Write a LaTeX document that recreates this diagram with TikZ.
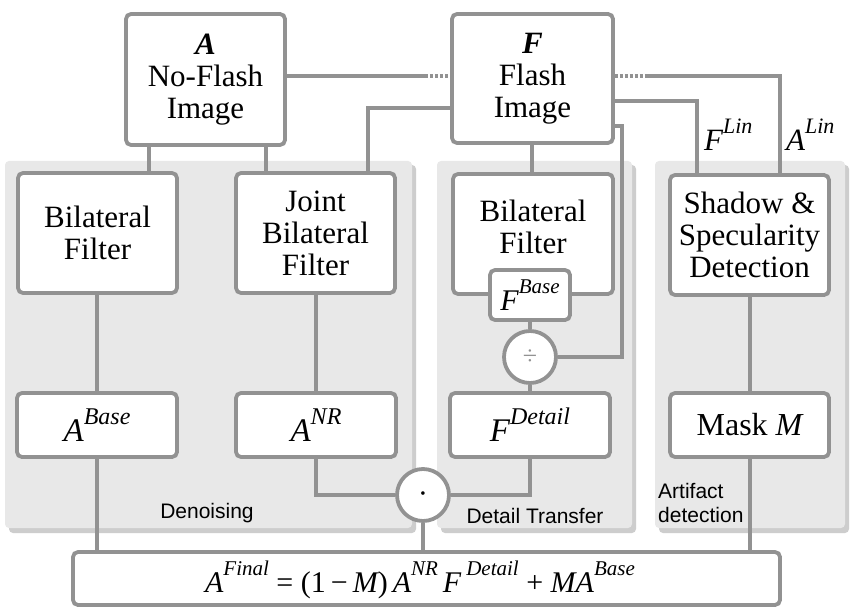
\documentclass[tikz,border=0pt]{standalone}
\usepackage{fontspec}
\setmainfont{Liberation Serif}
\newfontfamily\labfont{Liberation Sans}
\usetikzlibrary{calc}
\definecolor{ln}{RGB}{146,146,146}
\definecolor{pan}{RGB}{232,232,232}
\definecolor{pansh}{RGB}{205,205,205}
\newcommand{\sups}[2][23]{\raisebox{17pt}{\fontsize{#1}{#1}\selectfont\itshape #2}}
\newcommand{\iv}[1]{{\itshape #1}}
\begin{document}
\begin{tikzpicture}[x=1pt,y=-1pt,
  conn/.style={draw=ln,line width=3.8pt},
  dotc/.style={draw=ln,line width=3.8pt,dash pattern=on 3pt off 2pt},
  blk/.style={draw=ln,line width=3.8pt,fill=white,rounded corners=5pt,inner sep=0pt,
    align=center,font=\fontsize{31}{32}\selectfont},
  mth/.style={font=\fontsize{33}{33}\selectfont},
  opc/.style={draw=ln,line width=3.8pt,fill=white,circle,inner sep=0pt,minimum size=52pt,
    font=\fontsize{26}{26}\selectfont},
  panel/.style={fill=pan,rounded corners=4pt},
  panelsh/.style={fill=pansh,rounded corners=4pt},
  lab/.style={font=\labfont\fontsize{21}{24}\selectfont,inner sep=0pt}]
\useasboundingbox (0,0) rectangle (858,612);
\fill[white] (0,0) rectangle (858,612);
% panels
\foreach \a/\b in {5/412,437/632,655/845}{
  \fill[panelsh] (\a+4,165) rectangle (\b+4,533);
  \fill[panel] (\a,161) rectangle (\b,528);
}
% nodes
\node[blk,minimum width=159pt,minimum height=131pt] (A) at (205.5,79.5)
  {\textbf{\itshape A}\\No-Flash\\Image};
\node[blk,minimum width=161pt,minimum height=129pt] (F) at (532.5,78.5)
  {\textbf{\itshape F}\\Flash\\Image};
\node[blk,minimum width=159pt,minimum height=120pt] (BF1) at (97.5,233) {Bilateral\\Filter};
\node[blk,minimum width=159pt,minimum height=120pt] (JBF) at (315.5,233) {Joint\\Bilateral\\Filter};
\node[blk,minimum width=160pt,minimum height=120pt] (BF2) at (533,234) {};
\node[inner sep=0pt,align=center,font=\fontsize{31}{32}\selectfont] (BF2t) at (533,227) {Bilateral\\Filter};
\node[blk,minimum width=159pt,minimum height=120pt] (SD) at (749.5,235) {Shadow \&\\Specularity\\Detection};
\node[blk,mth,minimum width=80pt,minimum height=50pt,font=\fontsize{30}{30}\selectfont] (FB) at (530,295) {\iv{F}\sups[21]{Base}};
\node[opc] (DIV) at (530,357) {\textcolor{ln}{÷}};
\node[blk,mth,minimum width=160pt,minimum height=64pt] (FD) at (530,425) {\iv{F}\sups[24]{Detail}};
\node[blk,mth,minimum width=160pt,minimum height=64pt] (AB) at (97,425) {\iv{A}\sups[24]{Base}};
\node[blk,mth,minimum width=160pt,minimum height=64pt] (ANR) at (316,425) {\iv{A}\sups[24]{NR}};
\node[blk,mth,minimum width=159pt,minimum height=64pt,font=\fontsize{32}{32}\selectfont] (MK) at (749.5,425) {Mask \iv{M}};
\node[opc,font=\fontsize{15}{15}\selectfont] (ODOT) at (423,495) {\textbullet};
\node[blk,minimum width=707pt,minimum height=53pt] (FIN) at (426.5,578.5) {};
\node[inner sep=0pt,font=\fontsize{30}{30}\selectfont] (FINt) at (420,580)
  {\iv{A}\sups[21]{Final} = (1\,−\,\iv{M})\,\iv{A}\sups[21]{NR}\,\iv{F}\,\sups[21]{Detail} + \iv{M}\iv{A}\sups[21]{Base}};
% labels
\node[lab] (l1) at (207,513) {Denoising};
\node[lab] (l2) at (535,516) {Detail Transfer};
\node[lab,align=left,anchor=west,font=\labfont\fontsize{21}{24}\selectfont] (l3) at (658,503) {Artifact\\detection};
\node[inner sep=0pt,anchor=base west,font=\fontsize{31}{31}\selectfont] (fl) at (704,151) {\iv{F}\sups[22]{Lin}};
\node[inner sep=0pt,anchor=base west,font=\fontsize{31}{31}\selectfont] (al) at (786,151) {\iv{A}\sups[22]{Lin}};
% coordinates
\coordinate (d1) at (425,76);
\coordinate (d2) at (645,76);
% connectors
\draw[conn] (A.east |- 0,76) -- (d1);
\draw[dotc] (d1) -- (F.west |- 0,76);
\draw[dotc] (F.east |- 0,76) -- (d2);
\draw[conn] (d2) -- (780,76) -- (SD.north -| 780,0);
\draw[conn] (F.east |- 0,101) -- (697,101) -- (SD.north -| 697,0);
\draw[conn] (F.west |- 0,108) -- (368,108) -- (JBF.north -| 368,0);
\draw[conn] (F.east |- 0,126) -- (622,126) -- (622,357) -- (DIV.east);
\draw[conn] (A.south -| 149,0) -- (BF1.north -| 149,0);
\draw[conn] (A.south -| 266,0) -- (JBF.north -| 266,0);
\draw[conn] (F.south -| 532,0) -- (BF2.north -| 532,0);
\draw[conn] (BF1.south -| 97,0) -- (AB.north -| 97,0);
\draw[conn] (AB.south -| 97,0) -- (FIN.north -| 97,0);
\draw[conn] (JBF.south -| 316,0) -- (ANR.north -| 316,0);
\draw[conn] (ANR.south -| 316,0) -- (316,495) -- (ODOT.west);
\draw[conn] (FB.south) -- (DIV.north);
\draw[conn] (DIV.south) -- (FD.north);
\draw[conn] (FD.south) -- (530,495) -- (ODOT.east);
\draw[conn] (ODOT.south) -- (FIN.north -| ODOT.south);
\draw[conn] (SD.south -| 750,0) -- (MK.north -| 750,0);
\draw[conn] (MK.south -| 750,0) -- (FIN.north -| 750,0);
\end{tikzpicture}
\end{document}
